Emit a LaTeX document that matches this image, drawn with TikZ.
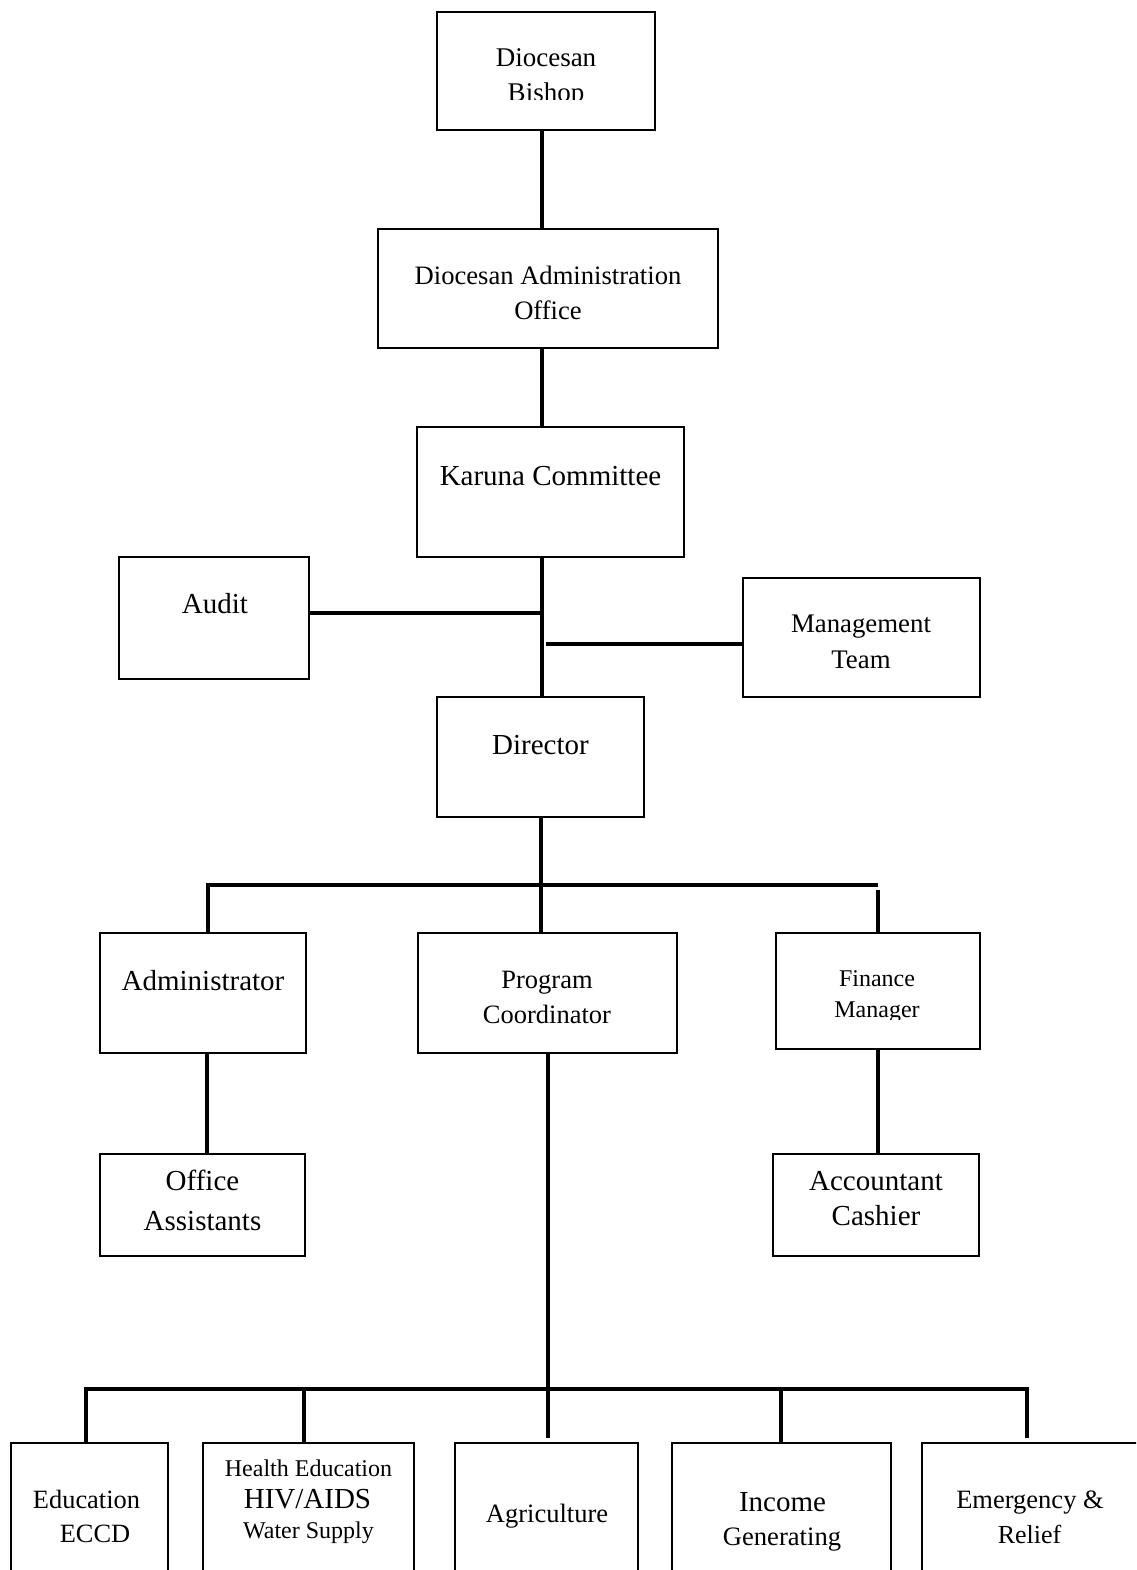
\documentclass[tikz,border=0pt]{standalone}
\usepackage{fontspec}
\setmainfont{Liberation Serif}
\begin{document}
\begin{tikzpicture}[x=1pt,y=-1pt,
  unit/.style={draw=black,line width=2pt,fill=none,inner sep=0pt},
  link/.style={line width=4pt,line cap=butt},
  lbl/.style={anchor=base,inner sep=0pt,font=\fontsize{#1}{#1}\selectfont},
  lbl/.default=29]
\useasboundingbox (0,0) rectangle (1136,1570);
\clip (0,0) rectangle (1136,1570);
% box from corner (x1,y1) to corner (x2,y2)
\newcommand{\orgbox}[5]{%
  \pgfmathsetmacro{\bw}{#4-#2}\pgfmathsetmacro{\bh}{#5-#3}%
  \node[unit,minimum width=\bw pt,minimum height=\bh pt] (#1) at ({(#2+#4)/2},{(#3+#5)/2}) {};}

% ---- boxes
\orgbox{bishop}{437}{12}{655}{130}
\orgbox{dao}{378}{229}{718}{348}
\orgbox{karuna}{417}{427}{684}{557}
\orgbox{audit}{119}{557}{309}{679}
\orgbox{mgmt}{743}{578}{980}{697}
\orgbox{director}{437}{697}{644}{817}
\orgbox{admin}{100}{933}{306}{1053}
\orgbox{prog}{418}{933}{677}{1053}
\orgbox{fin}{776}{933}{980}{1049}
\orgbox{office}{100}{1154}{305}{1256}
\orgbox{acct}{773}{1154}{979}{1256}
\orgbox{educ}{11}{1443}{168}{1640}
\orgbox{health}{203}{1443}{414}{1640}
\orgbox{agri}{455}{1443}{638}{1640}
\orgbox{income}{672}{1443}{891}{1640}
\orgbox{emerg}{922}{1443}{1160}{1640}

% ---- labels
\node[lbl=27] (t-bishop1) at (546,67) {Diocesan};
\begin{scope}
  \clip (430,70) rectangle (660,100);
  \node[lbl=27] (t-bishop2) at (546,102) {Bishop};
\end{scope}
\node[lbl=26.6] (t-dao1) at (548,284) {Diocesan Administration};
\node[lbl=26.6] (t-dao2) at (548,319) {Office};
\node[lbl] (t-karuna) at (550.5,485) {Karuna Committee};
\node[lbl] (t-audit) at (215,613) {Audit};
\node[lbl=26.8] (t-mgmt1) at (861,632) {Management};
\node[lbl=26.8] (t-mgmt2) at (861,668) {Team};
\node[lbl] (t-director) at (540.5,754) {Director};
\node[lbl] (t-admin) at (203,990) {Administrator};
\node[lbl=26.5] (t-prog1) at (547,988) {Program};
\node[lbl=26.5] (t-prog2) at (547,1023) {Coordinator};
\node[lbl=24] (t-fin1) at (877,986) {Finance};
\begin{scope}
  \clip (770,990) rectangle (985,1019);
  \node[lbl=24] (t-fin2) at (877,1017) {Manager};
\end{scope}
\node[lbl] (t-office1) at (202.5,1190) {Office};
\node[lbl] (t-office2) at (202.5,1230) {Assistants};
\node[lbl] (t-acct1) at (876,1190) {Accountant};
\node[lbl] (t-acct2) at (876,1225) {Cashier};
\node[lbl=26.4] (t-educ1) at (86.5,1508) {Education};
\node[lbl=26.4] (t-educ2) at (95,1542) {ECCD};
\node[lbl=24] (t-health1) at (308.5,1476) {Health Education};
\node[lbl] (t-health2) at (307.5,1508) {HIV/AIDS};
\node[lbl=24] (t-health3) at (308.5,1538) {Water Supply};
\node[lbl=26.5] (t-agri) at (547,1522) {Agriculture};
\node[lbl] (t-income1) at (782.5,1511) {Income};
\node[lbl=26.6] (t-income2) at (782,1545) {Generating};
\node[lbl=26.5] (t-emerg1) at (1030,1508) {Emergency \&};
\node[lbl=26] (t-emerg2) at (1029.5,1543) {Relief};

% ---- upper chain
\draw[link] (bishop.south -| 542,0) -- (dao.north -| 542,0);
\draw[link] (dao.south -| 542,0) -- (karuna.north -| 542,0);
\draw[link] (karuna.south -| 542,0) -- (director.north -| 542,0);
\coordinate (auditj) at (543,613);
\coordinate (mgmtj) at (546,644);
\draw[link] (audit.east |- auditj) -- (auditj);
\draw[link] (mgmtj) -- (mgmt.west |- mgmtj);

% ---- director bus
\coordinate (busL) at (208,885);
\coordinate (busR) at (878,885);
\coordinate (busM) at (541,885);
\draw[link] (director.south -| busM) -- (busM);
\draw[link] (busL) -- (busR);
\draw[link] ([yshift=2pt]busL) -- (admin.north -| busL);
\draw[link] (busM) -- (prog.north -| busM);
\coordinate (finTop) at (878,890);
\draw[link] (finTop) -- (fin.north -| finTop);
\draw[link] (admin.south -| 207,0) -- (office.north -| 207,0);
\draw[link] (fin.south -| 878,0) -- (acct.north -| 878,0);

% ---- program bus
\coordinate (pbusL) at (86,1389);
\coordinate (pbusR) at (1027,1389);
\coordinate (pbusM) at (547.5,1389);
\draw[link] (prog.south -| pbusM) -- (pbusM);
\draw[link] (pbusL) -- (pbusR);
\draw[link] ([yshift=2pt]pbusL) -- (educ.north -| pbusL);
\draw[link] (304,1389) -- (health.north -| 304,0);
\draw[link] (pbusM) -- (547.5,1438);
\draw[link] (781,1389) -- (income.north -| 781,0);
\draw[link] ([yshift=2pt]pbusR) -- (1027,1438);
\end{tikzpicture}
\end{document}
